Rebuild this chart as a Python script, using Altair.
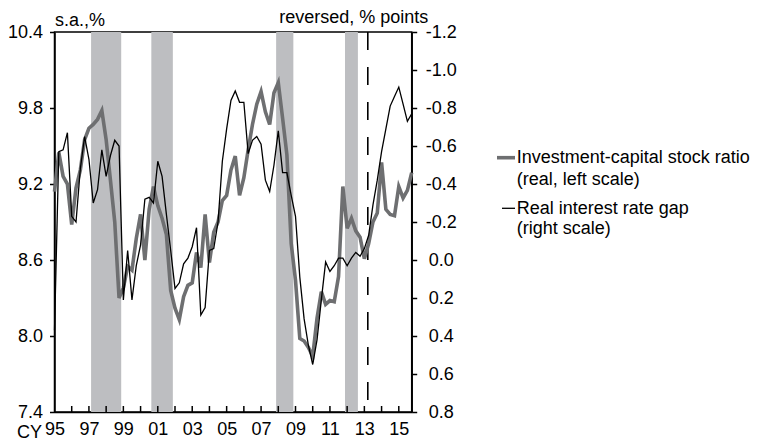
import altair as alt
import pandas as pd

# ---------------- data (quarterly, 1995Q1 - 2015Q4) ----------------
start_year = 1995
investment_ratio = [
    9.14, 9.45, 9.26, 9.20, 8.88, 9.17, 9.31, 9.55, 9.64, 9.67,
    9.71, 9.78, 9.55, 9.23, 8.90, 8.30, 8.38, 8.55, 8.52, 8.77,
    8.96, 8.60, 9.00, 9.18, 9.03, 8.93, 8.80, 8.36, 8.22, 8.13,
    8.31, 8.40, 8.42, 8.66, 8.54, 8.96, 8.58, 8.82, 8.90, 9.07,
    9.11, 9.31, 9.42, 9.11, 9.25, 9.47, 9.67, 9.83, 9.93, 9.77,
    9.67, 9.92, 10.00, 9.72, 9.43, 8.73, 8.44, 7.98, 7.96, 7.91,
    7.84, 8.14, 8.35, 8.25, 8.28, 8.27, 8.47, 9.18, 8.85, 8.93,
    8.83, 8.78, 8.61, 8.73, 8.90, 8.97, 9.37, 9.00, 8.96, 8.95,
    9.18, 9.09, 9.15, 9.29,
]
rate_gap = [
    0.37, -0.57, -0.58, -0.67, -0.23, -0.20, -0.48, -0.65, -0.53, -0.30,
    -0.37, -0.58, -0.44, -0.55, -0.63, -0.60, 0.21, -0.05, 0.21, 0.03,
    -0.08, -0.32, -0.33, -0.30, -0.52, -0.44, -0.24, -0.05, 0.15, 0.12,
    0.02, -0.01, -0.07, -0.17, 0.29, 0.25, -0.05, -0.06, -0.20, -0.52,
    -0.69, -0.84, -0.89, -0.83, -0.83, -0.56, -0.63, -0.65, -0.61, -0.42,
    -0.36, -0.50, -0.68, -0.46, -0.46, -0.34, -0.23, 0.09, 0.31, 0.45,
    0.55, 0.42, 0.21, 0.01, 0.06, 0.03, -0.01, -0.01, 0.03, -0.01,
    -0.04, -0.02, -0.06, -0.13, -0.29, -0.42, -0.57, -0.69, -0.81, -0.86,
    -0.91, -0.82, -0.73, -0.77,
]
recession_start = [1997.125, 2000.625, 2007.875, 2011.875]
recession_end = [1998.875, 2001.875, 2008.875, 2012.625]
dashed_at = [2013.2]
x_tick_years = list(range(1996, 2016))
x_label_years = list(range(1995, 2016, 2))
left_ticks = [7.4, 8.0, 8.6, 9.2, 9.8, 10.4]
right_ticks = [-1.2, -1.0, -0.8, -0.6, -0.4, -0.2, 0.0, 0.2, 0.4, 0.6, 0.8]

legend_labels = ["Investment-capital stock ratio", "(real, left scale)",
                 "Real interest rate gap", "(right scale)"]

# ---------------- tables ----------------
quarter_pos = [start_year + i / 4 for i in range(len(investment_ratio))]
df = pd.DataFrame({"t": quarter_pos, "inv": investment_ratio, "gap": rate_gap})
rec_df = pd.DataFrame({"s": recession_start, "e": recession_end})
tick_df = pd.DataFrame({"yr": x_tick_years})
dash_df = pd.DataFrame({"d": dashed_at})
one = pd.DataFrame({"a": [0]})

W, H = 357.2, 380
FONT = "Liberation Sans"
SHADE = "#bdbec1"
GRAYLINE = "#6e6f71"

x_scale = alt.Scale(domain=[1995, 2015.75], nice=False, zero=False)
x_axis = alt.Axis(values=x_label_years, labelExpr="substring(toString(datum.value), 2, 4)",
                  ticks=False, labelPadding=8, labelBaseline="top", title=None,
                  labelFontSize=18, labelOverlap=False, labelFlush=False,
                  labelSeparation=0, labelBound=False)

shade = alt.Chart(rec_df).mark_rect(color=SHADE).encode(
    x=alt.X("s:Q", scale=x_scale, axis=x_axis),
    x2="e:Q",
    y=alt.value(0), y2=alt.value(H),
)

xticks = alt.Chart(tick_df).mark_rule(color="black", strokeWidth=1.5).encode(
    x=alt.X("yr:Q", axis=x_axis),
    y=alt.value(H), y2=alt.value(H - 6),
)

dashed = alt.Chart(dash_df).mark_rule(color="black", strokeWidth=1.6, strokeDash=[18, 17]).encode(
    x=alt.X("d:Q", axis=x_axis),
    y=alt.value(0), y2=alt.value(H),
)

gray = alt.Chart(df).mark_line(color=GRAYLINE, strokeWidth=3.6).encode(
    x=alt.X("t:Q", axis=x_axis),
    y=alt.Y("inv:Q", scale=alt.Scale(domain=[7.4, 10.4], nice=False, zero=False),
            axis=alt.Axis(orient="left", values=left_ticks, format=".1f", title=None,
                          tickSize=5, labelPadding=7, labelOverlap=False, labelFlush=False)),
)

black = alt.Chart(df).mark_line(color="black", strokeWidth=1.3).encode(
    x=alt.X("t:Q", axis=x_axis),
    y=alt.Y("gap:Q", scale=alt.Scale(domain=[-1.2, 0.8], reverse=True, nice=False, zero=False),
            axis=alt.Axis(orient="right", values=right_ticks, title=None, tickSize=5,
                          labelExpr="replace(format(datum.value, '.1f'), '\u2212', '-')",
                          labelAlign="center", labelPadding=24, labelOverlap=False,
                          labelFlush=False)),
)


def txt(s, x, y, align="left"):
    return alt.Chart(one).mark_text(font=FONT, fontSize=18, color="black", align=align,
                                    baseline="alphabetic").encode(
        x=alt.value(x), y=alt.value(y), text=alt.value(s))


def leg_line(color, x1, x2, y, w):
    return alt.Chart(one).mark_rule(color=color, strokeWidth=w).encode(
        x=alt.value(x1), x2=alt.value(x2), y=alt.value(y))


layers = [
    shade, xticks, dashed, gray, black,
    txt("s.a.,%", 0.5, -6.5),
    txt("reversed, % points", 373.8, -9.5, align="right"),
    txt("CY", -12.5, 405.5, align="right"),
    leg_line(GRAYLINE, 442.5, 460.5, 125.7, 3.6),
    leg_line("black", 447.5, 460.5, 176.3, 1.3),
    txt(legend_labels[0], 462.2, 130.7),
    txt(legend_labels[1], 462.2, 152.5),
    txt(legend_labels[2], 462.2, 182.3),
    txt(legend_labels[3], 462.2, 202.3),
]

chart = alt.layer(*layers).resolve_scale(y="independent").properties(
    width=W, height=H,
    autosize=alt.AutoSizeParams(type="none"),
    padding={"left": 46.5, "top": 24, "right": 339.3, "bottom": 30},
).configure(font=FONT).configure_axis(
    labelFont=FONT, labelFontSize=18, labelColor="black",
    domainColor="black", domainWidth=1.5, tickColor="black", tickWidth=1.5,
    grid=False, labelFlush=False, labelOverlap=False,
).configure_view(stroke="black", strokeWidth=1.5)

chart.save("out.html", embed_options={"renderer": "svg", "actions": False})
